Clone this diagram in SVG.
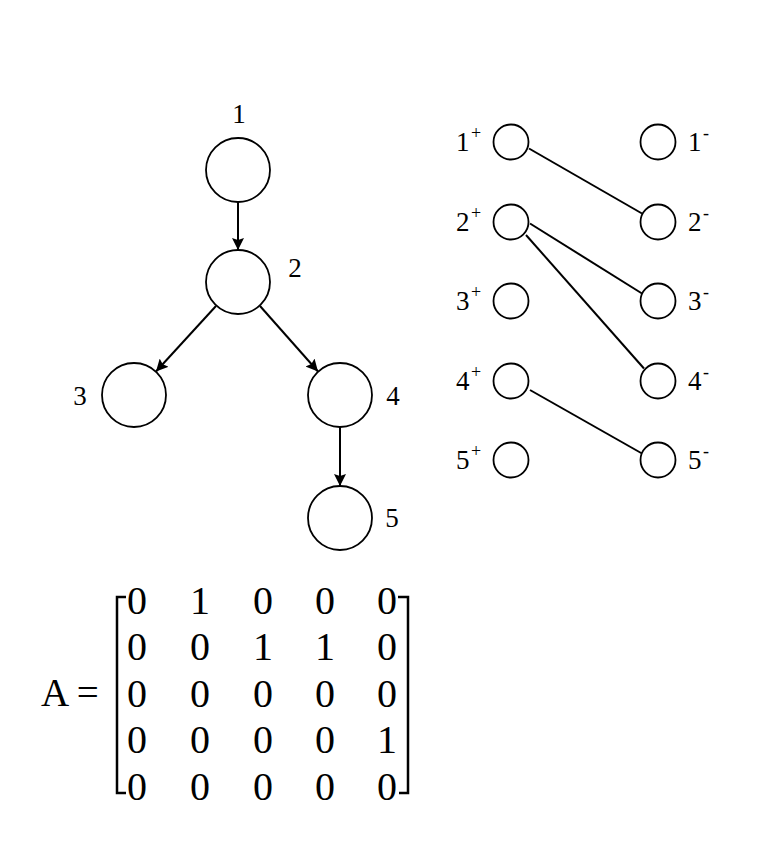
<svg xmlns="http://www.w3.org/2000/svg" width="771" height="867" viewBox="0 0 771 867">
<defs>
<style>
.node{fill:#fff;stroke:#000;stroke-width:1.8}
.edge{stroke:#000;stroke-width:2;fill:none}
.lbl{font-family:"Liberation Serif","Times New Roman",serif;font-size:27px;fill:#000}
.sup{font-size:18px}
.mat{font-family:"Liberation Serif","Times New Roman",serif;font-size:40px;fill:#000;text-anchor:middle}
.br{stroke:#000;stroke-width:2.5;fill:none}
</style>
<marker id="arr" viewBox="0 0 12 12" refX="12" refY="6" markerWidth="12" markerHeight="12" markerUnits="userSpaceOnUse" orient="auto">
<path d="M0,0 L12,6 L0,12 L2,6 z" fill="#000"/>
</marker>
</defs>
<rect width="771" height="867" fill="#fff"/>

<g id="tree-edges">
<line class="edge" x1="238" y1="202" x2="238" y2="250" marker-end="url(#arr)"/>
<line class="edge" x1="216" y1="306" x2="156" y2="371.5" marker-end="url(#arr)"/>
<line class="edge" x1="260" y1="306" x2="318" y2="371.5" marker-end="url(#arr)"/>
<line class="edge" x1="340" y1="427" x2="340" y2="486" marker-end="url(#arr)"/>
</g>
<g id="t1"><circle class="node" cx="238" cy="170" r="32"/><text class="lbl" x="239" y="123" text-anchor="middle">1</text></g>
<g id="t2"><circle class="node" cx="238" cy="282" r="32"/><text class="lbl" x="295" y="277" text-anchor="middle">2</text></g>
<g id="t3"><circle class="node" cx="134" cy="395" r="32"/><text class="lbl" x="80" y="405" text-anchor="middle">3</text></g>
<g id="t4"><circle class="node" cx="340" cy="395" r="32"/><text class="lbl" x="393" y="405" text-anchor="middle">4</text></g>
<g id="t5"><circle class="node" cx="340" cy="518" r="32"/><text class="lbl" x="392" y="527" text-anchor="middle">5</text></g>

<g id="bip-edges">
<line class="edge" x1="529" y1="148.5" x2="642" y2="213.5"/>
<line class="edge" x1="530" y1="223.5" x2="642" y2="293.5"/>
<line class="edge" x1="526" y1="235" x2="644" y2="368.5"/>
<line class="edge" x1="530" y1="390" x2="642" y2="453.5"/>
</g>
<g id="p1"><circle class="node" cx="511" cy="142" r="17.5"/><text class="lbl" x="456" y="151">1<tspan class="sup" x="471" dy="-12">+</tspan></text></g>
<g id="p2"><circle class="node" cx="511" cy="222" r="17.5"/><text class="lbl" x="456" y="231">2<tspan class="sup" x="471" dy="-12">+</tspan></text></g>
<g id="p3"><circle class="node" cx="511" cy="301" r="17.5"/><text class="lbl" x="456" y="310">3<tspan class="sup" x="471" dy="-12">+</tspan></text></g>
<g id="p4"><circle class="node" cx="511" cy="381" r="17.5"/><text class="lbl" x="456" y="390">4<tspan class="sup" x="471" dy="-12">+</tspan></text></g>
<g id="p5"><circle class="node" cx="511" cy="460" r="17.5"/><text class="lbl" x="456" y="469">5<tspan class="sup" x="471" dy="-12">+</tspan></text></g>
<g id="m1"><circle class="node" cx="658" cy="142" r="17.5"/><text class="lbl" x="688" y="151">1<tspan class="sup" x="703" dy="-12">-</tspan></text></g>
<g id="m2"><circle class="node" cx="658" cy="222" r="17.5"/><text class="lbl" x="688" y="231">2<tspan class="sup" x="703" dy="-12">-</tspan></text></g>
<g id="m3"><circle class="node" cx="658" cy="301" r="17.5"/><text class="lbl" x="688" y="310">3<tspan class="sup" x="703" dy="-12">-</tspan></text></g>
<g id="m4"><circle class="node" cx="658" cy="381" r="17.5"/><text class="lbl" x="688" y="390">4<tspan class="sup" x="703" dy="-12">-</tspan></text></g>
<g id="m5"><circle class="node" cx="658" cy="460" r="17.5"/><text class="lbl" x="688" y="469">5<tspan class="sup" x="703" dy="-12">-</tspan></text></g>

<g id="matrix">
<text x="41" y="706" style="font-family:'Liberation Serif','Times New Roman',serif;font-size:39px">A =</text>
<path class="br" d="M126,597 H117 V793 H126"/>
<path class="br" d="M398,597 H408 V793 H399"/>
<text class="mat" y="614"><tspan x="137">0</tspan><tspan x="200">1</tspan><tspan x="263">0</tspan><tspan x="325">0</tspan><tspan x="387">0</tspan></text>
<text class="mat" y="660"><tspan x="137">0</tspan><tspan x="200">0</tspan><tspan x="263">1</tspan><tspan x="325">1</tspan><tspan x="387">0</tspan></text>
<text class="mat" y="707"><tspan x="137">0</tspan><tspan x="200">0</tspan><tspan x="263">0</tspan><tspan x="325">0</tspan><tspan x="387">0</tspan></text>
<text class="mat" y="753"><tspan x="137">0</tspan><tspan x="200">0</tspan><tspan x="263">0</tspan><tspan x="325">0</tspan><tspan x="387">1</tspan></text>
<text class="mat" y="800"><tspan x="137">0</tspan><tspan x="200">0</tspan><tspan x="263">0</tspan><tspan x="325">0</tspan><tspan x="387">0</tspan></text>
</g>
</svg>
